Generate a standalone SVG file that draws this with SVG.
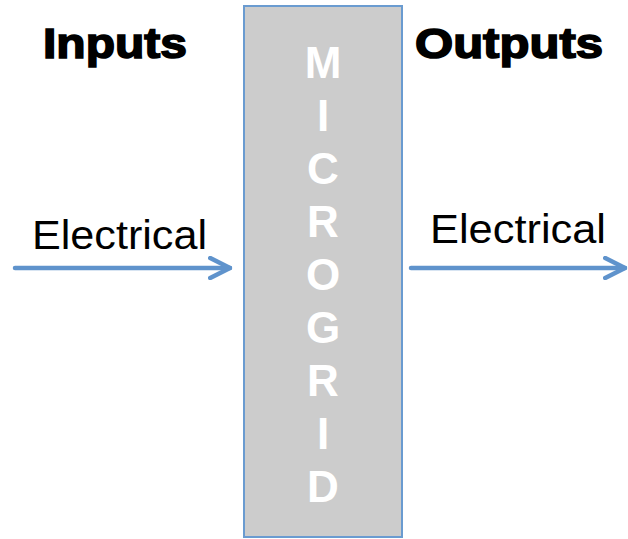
<svg xmlns="http://www.w3.org/2000/svg" width="628" height="539" viewBox="0 0 628 539">
<style>
.head{font-family:"Liberation Sans",Arial,sans-serif;font-weight:bold;font-size:42px;fill:#000;stroke:#000;stroke-width:1.6}
.lbl{font-family:"Liberation Sans",Arial,sans-serif;font-size:40px;fill:#000}
.vl{font-family:"Liberation Sans",Arial,sans-serif;font-weight:bold;font-size:44px;fill:#fff;text-anchor:middle}
.conn{stroke:#5f93cc;stroke-width:4.5;fill:none;stroke-linecap:round}
</style>
<defs>
<marker id="ah" viewBox="0 0 10 10" refX="9" refY="5" markerWidth="5.5" markerHeight="5.5" markerUnits="strokeWidth" orient="auto">
<path d="M1,1 L9,5 L1,9" fill="none" stroke="#5f93cc" stroke-width="1.8" stroke-linecap="round" stroke-linejoin="round"/>
</marker>
</defs>
<g id="inputs-label"><text class="head" x="43" y="58" textLength="144" lengthAdjust="spacingAndGlyphs">Inputs</text></g>
<g id="outputs-label"><text class="head" x="415" y="58" textLength="188" lengthAdjust="spacingAndGlyphs">Outputs</text></g>
<g id="microgrid">
<rect x="244" y="6" width="158" height="531" fill="#cccccc" stroke="#6a9bd0" stroke-width="2"/>
<text class="vl" x="323" y="78">M</text>
<text class="vl" x="323" y="131">I</text>
<text class="vl" x="323" y="184">C</text>
<text class="vl" x="323" y="237">R</text>
<text class="vl" x="323" y="290">O</text>
<text class="vl" x="323" y="343">G</text>
<text class="vl" x="323" y="396">R</text>
<text class="vl" x="323" y="449">I</text>
<text class="vl" x="323" y="502">D</text>
</g>
<g id="input-electrical"><text class="lbl" x="32" y="249" textLength="175" lengthAdjust="spacingAndGlyphs">Electrical</text></g>
<g id="output-electrical"><text class="lbl" x="430" y="243" textLength="176" lengthAdjust="spacingAndGlyphs">Electrical</text></g>
<g id="connectors">
<line class="conn" x1="15" y1="268" x2="230" y2="268" marker-end="url(#ah)"/>
<line class="conn" x1="411" y1="268" x2="625" y2="268" marker-end="url(#ah)"/>
</g>
</svg>
